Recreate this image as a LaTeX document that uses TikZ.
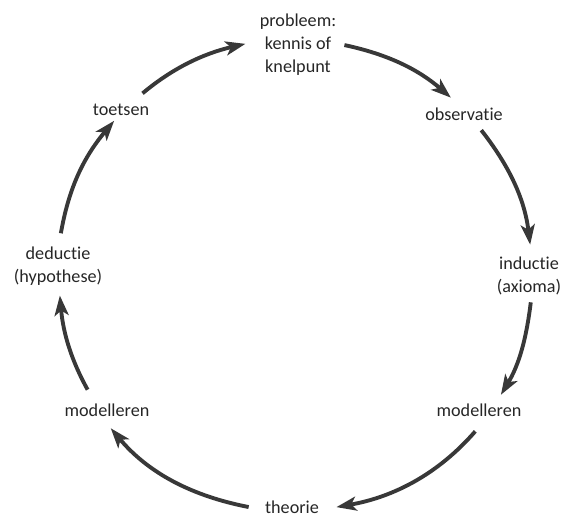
\documentclass[tikz,border=0pt]{standalone}
\usepackage{fontspec}
\setmainfont{Carlito}[Ligatures=NoCommon]
\usetikzlibrary{arrows.meta}

\begin{document}
\begin{tikzpicture}[x=0.03cm, y=0.03cm,
    stap/.style={align=center, text=black!85, inner sep=1pt,
        font=\fontsize{15.5}{19.5}\selectfont},
    pijl/.style={line width=3.3pt, draw=black!78,
        -{Stealth[length=6mm, width=4.2mm, inset=1.5mm]}}]

    \useasboundingbox (0,0) rectangle (566,517);

    % Stappen van de cyclus
    \node[stap] (probleem) at (298,472) {probleem:\\kennis of\\knelpunt};
    \node[stap] (observatie) at (464,403) {observatie};
    \node[stap] (inductie) at (529,241) {inductie\\(axioma)};
    \node[stap] (modelR) at (479,107) {modelleren};
    \node[stap] (theorie) at (292,10) {theorie};
    \node[stap] (modelL) at (107,107) {modelleren};
    \node[stap] (deductie) at (58,251) {deductie\\(hypothese)};
    \node[stap] (toetsen) at (121,407) {toetsen};

    % Pijlen
    \draw[pijl, shorten <=0.44cm, shorten >=0.4cm] (toetsen.35) to[out=40, in=193] (probleem.174);
    \draw[pijl, shorten <=0.21cm, shorten >=0.39cm] (probleem.2) to[out=-12, in=139] (observatie.113);
    \draw[pijl, shorten <=0.32cm, shorten >=0.33cm] (observatie.-36) to[out=-52, in=97] (inductie.83);
    \draw[pijl, shorten <=0.18cm, shorten >=0.26cm] (inductie.-83) to[out=-97, in=59] (modelR.24);
    \draw[pijl, shorten <=0.54cm, shorten >=0.49cm] (modelR.-44) to[out=-131, in=10] (theorie.-6);
    \draw[pijl, shorten <=0.46cm, shorten >=0.41cm] (theorie.186) to[out=169, in=-50] (modelL.-123);
    \draw[pijl, shorten <=0.43cm, shorten >=0.27cm] (modelL.148) to[out=119, in=-85] (deductie.-87);
    \draw[pijl, shorten <=0.37cm, shorten >=0.14cm] (deductie.88) to[out=80, in=-130] (toetsen.-118);

\end{tikzpicture}
\end{document}
